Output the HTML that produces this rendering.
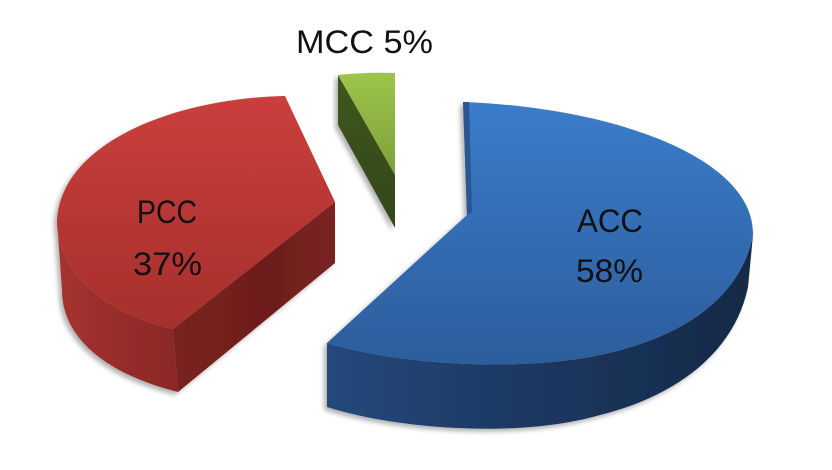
<!DOCTYPE html>
<html>
<head>
<meta charset="utf-8">
<style>
  html, body { margin: 0; padding: 0; background: #ffffff; }
  body { width: 832px; height: 470px; overflow: hidden; }
  svg { display: block; }
  text { font-family: "Liberation Sans", sans-serif; fill: #111; }
</style>
</head>
<body>
<svg width="832" height="470" viewBox="0 0 832 470" xmlns="http://www.w3.org/2000/svg">
  <defs>
    <filter id="sh" x="-10%" y="-10%" width="120%" height="130%">
      <feDropShadow dx="-3" dy="3" stdDeviation="2.5" flood-color="#000" flood-opacity="0.3"/>
    </filter>
    <linearGradient id="blueTop" x1="0" y1="0" x2="0" y2="1">
      <stop offset="0" stop-color="#3b7cca"/>
      <stop offset="1" stop-color="#2c5d9c"/>
    </linearGradient>
    <linearGradient id="blueSide" x1="0" y1="0" x2="1" y2="0">
      <stop offset="0" stop-color="#25487b"/>
      <stop offset="0.5" stop-color="#1c3760"/>
      <stop offset="1" stop-color="#152946"/>
    </linearGradient>
    <linearGradient id="redTop" x1="0" y1="0" x2="0" y2="1">
      <stop offset="0" stop-color="#ca3f3c"/>
      <stop offset="1" stop-color="#a52f2c"/>
    </linearGradient>
    <linearGradient id="redWall" x1="0" y1="0" x2="1" y2="0">
      <stop offset="0" stop-color="#a6322f"/>
      <stop offset="1" stop-color="#8a2826"/>
    </linearGradient>
    <linearGradient id="redFace" x1="0" y1="0" x2="1" y2="0">
      <stop offset="0" stop-color="#7a2220"/>
      <stop offset="0.6" stop-color="#6e1e1d"/>
      <stop offset="1" stop-color="#7a2422"/>
    </linearGradient>
    <linearGradient id="greenTop" x1="0" y1="0" x2="0" y2="1">
      <stop offset="0" stop-color="#9dc54b"/>
      <stop offset="1" stop-color="#7f9f3a"/>
    </linearGradient>
    <linearGradient id="greenFace" x1="0" y1="0" x2="0" y2="1">
      <stop offset="0" stop-color="#40571f"/>
      <stop offset="1" stop-color="#33461a"/>
    </linearGradient>
  </defs>

  <!-- PCC (red) -->
  <g filter="url(#sh)">
    <path d="M57,220 C57,275 110,315 173,329 L178,392 C110,375 62,340 62,290 Z" fill="url(#redWall)"/>
    <path d="M335,202 L173,329 L178,392 L335,263 Z" fill="url(#redFace)"/>
    <path d="M335,202 L285,96 C180,98 62,140 57,220 C57,275 110,315 173,329 Z" fill="url(#redTop)"/>
  </g>

  <!-- MCC (green) -->
  <g filter="url(#sh)">
    <path d="M338,75 L395,175 L395,228 L338,125 Z" fill="url(#greenFace)"/>
    <path d="M338,75 Q367,72 395,73 L395,175 Z" fill="url(#greenTop)"/>
  </g>

  <!-- ACC (blue) -->
  <g filter="url(#sh)">
    <path d="M327,343 C400,365 520,372 600,355 C680,338 740,300 753,235 L748,287 C735,350 680,395 600,415 C520,438 400,430 327,407 Z" fill="url(#blueSide)"/>
    <path d="M463,102 L467,215 L327,343 C400,365 520,372 600,355 C680,338 740,300 753,235 C755,160 620,108 463,102 Z" fill="url(#blueTop)"/>
    <path d="M463,102 L469,102 L472,212 L467,215 Z" fill="#2a5792"/>
  </g>

  <!-- Labels -->
  <text x="296" y="53" font-size="32" textLength="137" lengthAdjust="spacingAndGlyphs">MCC 5%</text>
  <text x="137" y="223" font-size="32" textLength="60" lengthAdjust="spacingAndGlyphs">PCC</text>
  <text x="133" y="275" font-size="32" textLength="69" lengthAdjust="spacingAndGlyphs">37%</text>
  <text x="577" y="232" font-size="32" textLength="66" lengthAdjust="spacingAndGlyphs">ACC</text>
  <text x="576" y="282" font-size="32" textLength="67" lengthAdjust="spacingAndGlyphs">58%</text>
</svg>
</body>
</html>
